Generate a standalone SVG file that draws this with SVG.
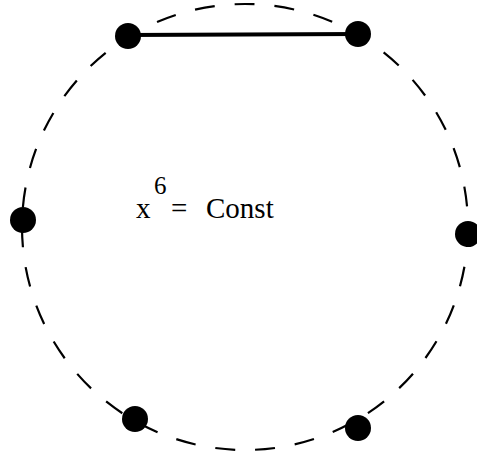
<svg xmlns="http://www.w3.org/2000/svg" width="477" height="457" viewBox="0 0 477 457">
<style>
.ring{fill:none;stroke:#000;stroke-width:2.2;stroke-dasharray:20 20}
.dot{fill:#000}
.edge{stroke:#000;stroke-width:4;fill:none}
text{font-family:"Liberation Serif","Times New Roman",serif;fill:#000}
</style>
<rect width="477" height="457" fill="#fff"/>
<circle class="ring" cx="245" cy="227" r="223"/>
<g id="connectors">
<line class="edge" x1="128" y1="35" x2="358" y2="34"/>
</g>
<g id="n1"><circle class="dot" cx="128" cy="36" r="13"/></g>
<g id="n2"><circle class="dot" cx="358" cy="34" r="13"/></g>
<g id="n3"><circle class="dot" cx="23" cy="220" r="13"/></g>
<g id="n4"><circle class="dot" cx="468" cy="234" r="13"/></g>
<g id="n5"><circle class="dot" cx="135" cy="419" r="13"/></g>
<g id="n6"><circle class="dot" cx="358" cy="428" r="13"/></g>
<g id="label">
<text x="136" y="218" font-size="29">x</text>
<text x="154" y="194" font-size="25">6</text>
<text x="171" y="218" font-size="29">=</text>
<text x="206" y="218" font-size="29">Const</text>
</g>
</svg>
